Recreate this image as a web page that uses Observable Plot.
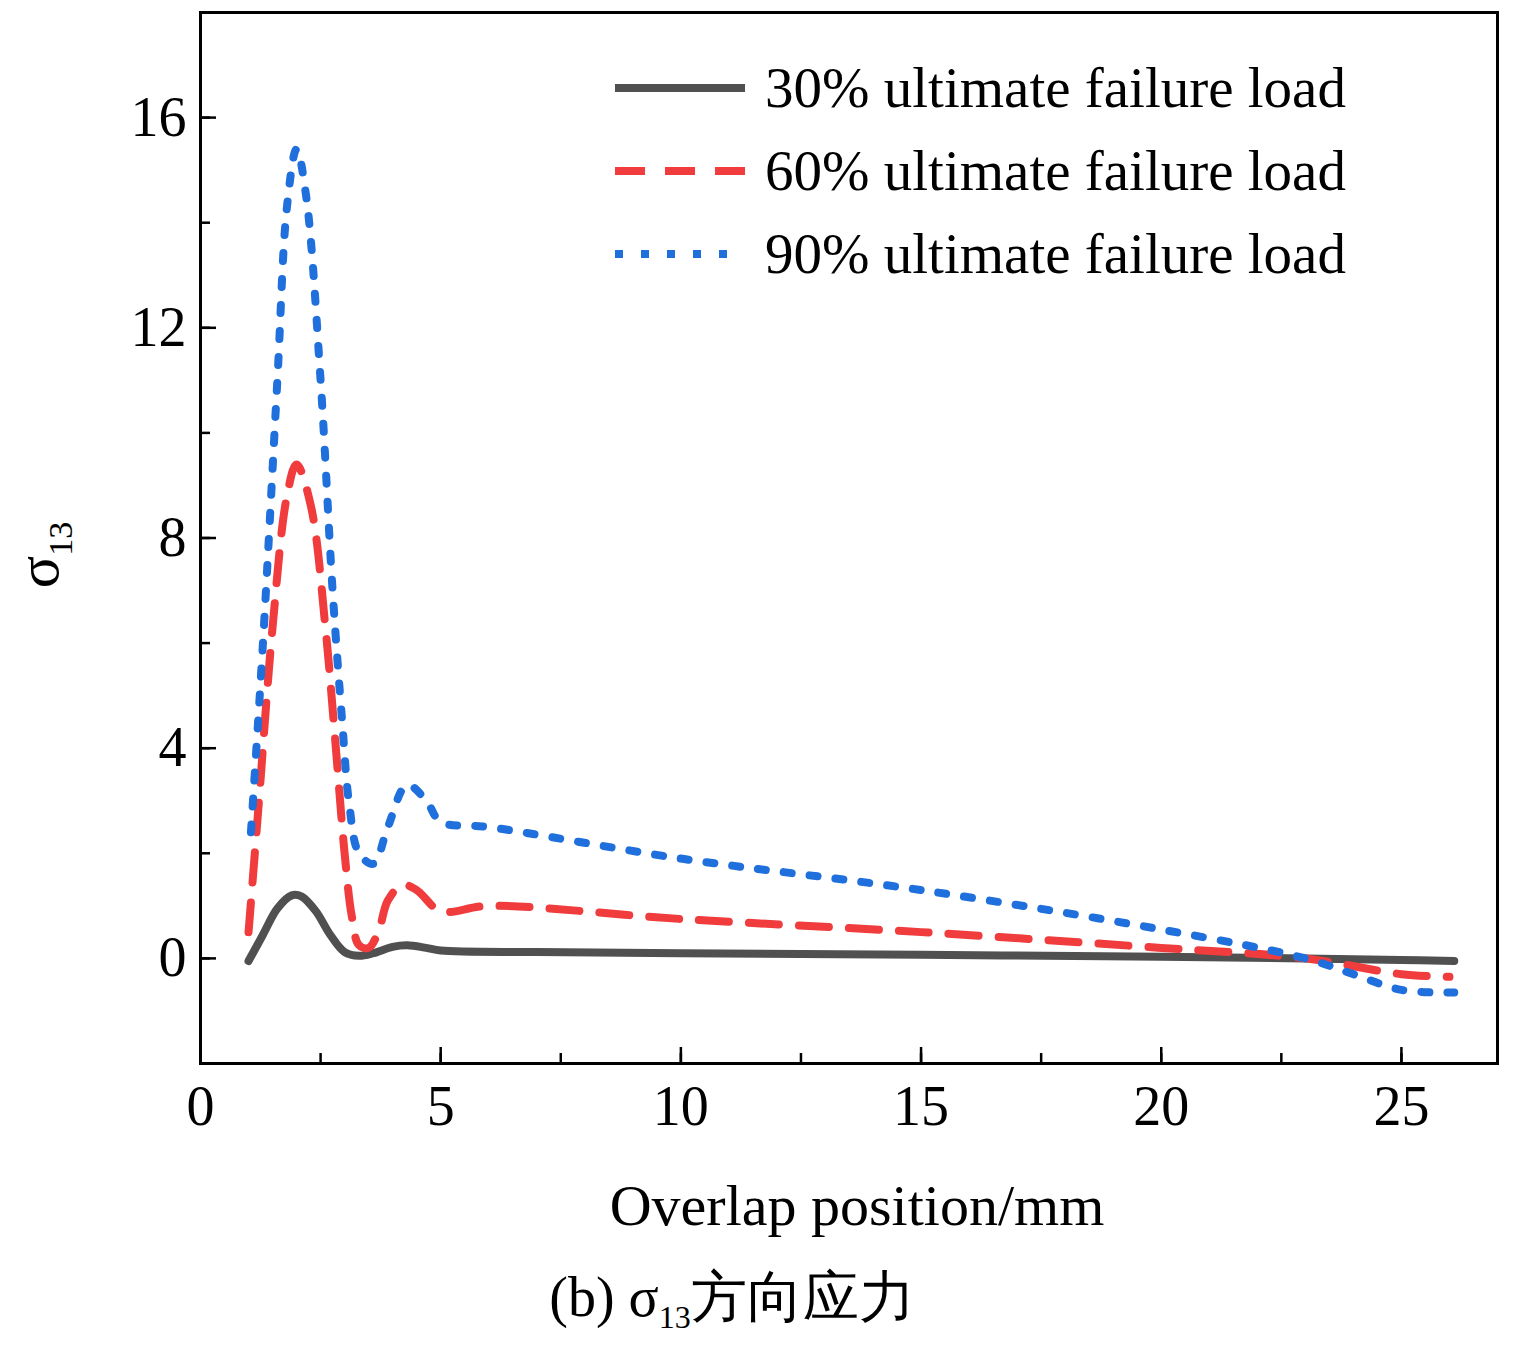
<!DOCTYPE html>
<html><head><meta charset="utf-8">
<script src="https://cdn.jsdelivr.net/npm/d3@7"></script>
<script src="https://cdn.jsdelivr.net/npm/@observablehq/plot@0.6"></script>
<style>body{margin:0;background:#fff;font-family:"Liberation Serif",serif}
#cap{text-align:center;font-size:56px;width:1524px;margin-top:10px;margin-left:-30px}</style>
</head><body><div id="chart"></div><div id="cap">(b) σ<sub style="font-size:32px">13</sub>方向应力</div>
<script>
const s30x=[1,1.3,1.6,1.9,2.1,2.4,2.7,3.0,3.3,3.6,4.0,4.3,4.7,5,7,10,15,20,23,25,26.1];
const s30y=[-0.05,0.45,0.95,1.2,1.18,0.9,0.45,0.12,0.05,0.1,0.22,0.25,0.2,0.15,0.12,0.1,0.07,0.03,0.0,-0.03,-0.05];
const s60x=[1,1.2,1.5,1.8,2.0,2.3,2.6,2.8,3.0,3.15,3.3,3.5,3.7,3.9,4.2,4.5,5,6,10,15,20,23,25,26];
const s60y=[0.5,2.8,6.3,8.8,9.4,8.6,6.3,4.2,2.0,0.8,0.25,0.2,0.5,1.1,1.4,1.3,0.9,1.0,0.75,0.5,0.2,0.0,-0.3,-0.35];
const s90x=[1.05,1.3,1.6,1.8,2.0,2.2,2.5,2.75,2.95,3.1,3.3,3.6,3.9,4.3,4.7,5,6,10,15,20,23,24,25,26.1];
const s90y=[2.4,6.0,11.0,14.3,15.4,14.5,11.0,7.0,4.5,2.9,2.0,1.8,2.5,3.3,3.0,2.6,2.5,1.9,1.3,0.55,0.0,-0.3,-0.6,-0.65];
const series=[
 {name:"30% ultimate failure load",x:s30x,y:s30y,color:"#505050",dash:null},
 {name:"60% ultimate failure load",x:s60x,y:s60y,color:"#f03c3c",dash:"30,20"},
 {name:"90% ultimate failure load",x:s90x,y:s90y,color:"#1f6fdc",dash:"8,18"}];
const xTicks=[0,5,10,15,20,25], yTicks=[0,4,8,12,16];
const marks=[];
for(const s of series){
 const d=s.x.map((v,i)=>({x:v,y:s.y[i]}));
 marks.push(Plot.line(d,{x:"x",y:"y",curve:"catmull-rom",stroke:s.color,strokeWidth:8,strokeDasharray:s.dash}));
}
marks.push(Plot.frame({stroke:"#000",strokeWidth:3}));
marks.push(Plot.axisX({ticks:d3.range(0,27.1,2.5),tickSize:-10,tickFormat:()=>"",strokeWidth:2.5,label:null}));
marks.push(Plot.axisX({ticks:xTicks,tickSize:-16,tickPadding:38,fontSize:56,strokeWidth:2.5,label:null}));
marks.push(Plot.axisY({ticks:d3.range(-2,18.1,2),tickSize:-10,tickFormat:()=>"",strokeWidth:2.5,label:null}));
marks.push(Plot.axisY({ticks:yTicks,tickSize:-16,tickPadding:30,fontSize:56,strokeWidth:2.5,label:null}));
const svg=Plot.plot({width:1524,height:1250,marginLeft:200,marginRight:27,marginTop:12,marginBottom:187,
 x:{domain:[0,27]},y:{domain:[-2,18]},style:{fontFamily:"Liberation Serif",background:"#fff"},marks});
const sel=d3.select(svg);
sel.append("text").attr("x",857).attr("y",1225).attr("text-anchor","middle").attr("font-size",58).attr("font-family","Liberation Serif").text("Overlap position/mm");
const yl=sel.append("text").attr("transform","translate(58,555) rotate(-90)").attr("text-anchor","middle").attr("font-size",60).attr("font-family","Liberation Serif");
yl.append("tspan").text("σ");yl.append("tspan").attr("font-size",34).attr("dy",14).text("13");
series.forEach((s,i)=>{const y=88+i*83;
 sel.append("line").attr("x1",615).attr("x2",745).attr("y1",y).attr("y2",y).attr("stroke",s.color).attr("stroke-width",8).attr("stroke-dasharray",s.dash);
 sel.append("text").attr("x",765).attr("y",y+19).attr("text-anchor","start").attr("font-size",57).attr("font-family","Liberation Serif").text(s.name);});
document.getElementById("chart").appendChild(svg);
</script></body></html>
